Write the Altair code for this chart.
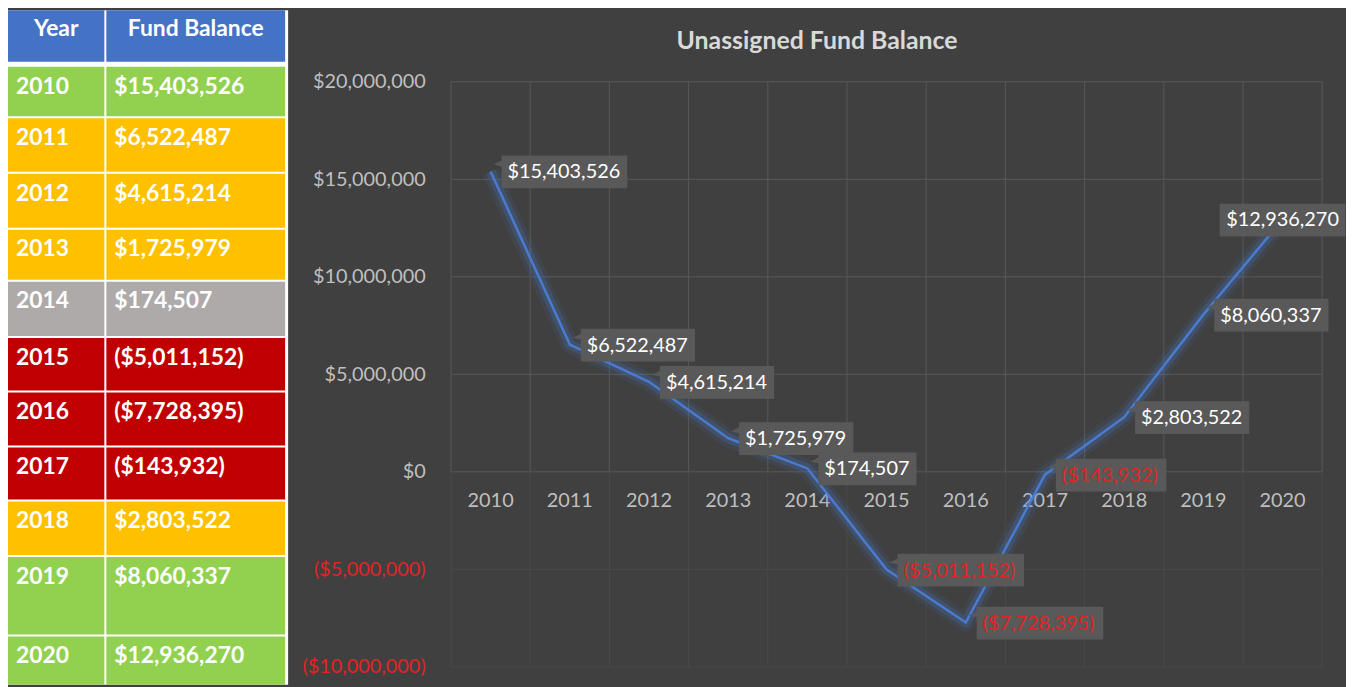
import altair as alt
import pandas as pd

# ---------------- data ----------------
years = ["2010", "2011", "2012", "2013", "2014", "2015", "2016", "2017", "2018", "2019", "2020"]
balances = [15403526, 6522487, 4615214, 1725979, 174507, -5011152, -7728395, -143932, 2803522, 8060337, 12936270]
row_colors = ["#92D050", "#FFC000", "#FFC000", "#FFC000", "#AEAAAA", "#C00000",
              "#C00000", "#C00000", "#FFC000", "#92D050", "#92D050"]
header = ["Year", "Fund Balance"]
header_color = "#4472C4"
y_ticks = [20000000, 15000000, 10000000, 5000000, 0, -5000000, -10000000]
chart_title = "Unassigned Fund Balance"

# ---------------- style / layout ----------------
FONT = "Lato"
BG = "#404040"
RED = "#e02424"
GRID = "#595959"
GRID_FAINT = "#4a4a4a"
LINE = "#4a7bd0"
BOX = "#595959"
ROW_PITCH = [57, 52, 56, 56.5, 52.5, 57, 55, 55.5, 54.5, 56, 80.3, 48.7]
COLS = [(0, 97), (99, 279)]
TABLE_W, TABLE_H = 282, 679
PLOT_W, PLOT_H = 877, 679
TOP_PX, BOT_PX = 72, 661  # pixel rows of the 20M and -10M gridlines


def money(v):
    return f"${v:,}" if v >= 0 else f"(${-v:,})"


def text_w(s, size=20):
    w = 0
    for c in s:
        if c.isdigit() or c == "$":
            w += 0.58
        elif c == ",":
            w += 0.23
        elif c in "()":
            w += 0.31
        else:
            w += 0.5
    return w * size


# ---------------- table ----------------
cells = []
starts = []
acc = 0
for p in ROW_PITCH:
    starts.append(acc)
    acc += p
table_total = acc
n_rows = len(ROW_PITCH)
for r in range(n_rows):
    gap = 5 if r == 0 else (0 if r == n_rows - 1 else 2)
    y0 = starts[r]
    y1 = starts[r] + ROW_PITCH[r] - gap
    if r == 0:
        texts = header
        fill = header_color
        kind = "head"
    else:
        texts = [years[r - 1], money(balances[r - 1])]
        fill = row_colors[r - 1]
        kind = "body"
    for c, (x0, x1) in enumerate(COLS):
        cells.append(dict(x0=x0, x1=x1, xm=(x0 + x1) / 2, y0=y0, y1=y1,
                          fill=fill, text=texts[c], kind=kind))
cells = pd.DataFrame(cells)

tx = alt.Scale(domain=[0, TABLE_W], nice=False, zero=False)
ty = alt.Scale(domain=[0, table_total], nice=False, zero=False, reverse=True)

t_base = alt.Chart(cells)
t_rect = t_base.mark_rect().encode(
    x=alt.X("x0:Q", scale=tx, axis=None), x2="x1:Q",
    y=alt.Y("y0:Q", scale=ty, axis=None), y2="y1:Q",
    color=alt.Color("fill:N", scale=None),
)
t_head = t_base.transform_filter("datum.kind == 'head'").mark_text(
    align="center", baseline="middle", dy=19, fontSize=23, fontWeight="bold",
    color="white", font=FONT,
).encode(x=alt.X("xm:Q", scale=tx, axis=None), y=alt.Y("y0:Q", scale=ty, axis=None), text="text:N")
t_body = t_base.transform_filter("datum.kind == 'body'").mark_text(
    align="left", baseline="middle", dx=8, dy=20, fontSize=23, fontWeight="bold",
    color="white", font=FONT,
).encode(x=alt.X("x0:Q", scale=tx, axis=None), y=alt.Y("y0:Q", scale=ty, axis=None), text="text:N")

table = alt.layer(t_rect, t_head, t_body).properties(
    width=TABLE_W, height=TABLE_H,
    view=alt.ViewBackground(fill="white", strokeWidth=0),
)

# ---------------- line chart ----------------
per_px = 30000000 / (BOT_PX - TOP_PX)
y_hi = 20000000 + TOP_PX * per_px
y_lo = -10000000 - (PLOT_H - BOT_PX) * per_px

xs = alt.Scale(type="band", domain=years, paddingInner=0, paddingOuter=0)
ys = alt.Scale(domain=[y_lo, y_hi], nice=False, zero=False)

pts = []
for i, (yr, v) in enumerate(zip(years, balances)):
    last = i == len(years) - 1
    w = text_w(money(v)) + 13
    if last:
        path = f"M {-w/2:.1f} -16 H {w/2:.1f} V 17 H {-w/2:.1f} Z"
    else:
        path = f"M 11 -16 H {11 + w:.1f} V 17 H 11 V -5 L 3 -7 L 11 -11 Z"
    pts.append(dict(year=yr, value=v, path=path, last=last))
pts = pd.DataFrame(pts)
yr_df = pd.DataFrame({"year": years})
tick_df = pd.DataFrame({"v": y_ticks})
title_df = pd.DataFrame({"t": [chart_title]})

X = lambda **kw: alt.X("year:O", scale=xs, axis=None, **kw)

vgrid_up = alt.Chart(yr_df).mark_rule(color=GRID, strokeWidth=1).encode(
    x=X(bandPosition=0), y=alt.datum(20000000), y2=alt.datum(0))
vgrid_dn = alt.Chart(yr_df).mark_rule(color=GRID_FAINT, strokeWidth=1).encode(
    x=X(bandPosition=0), y=alt.datum(0), y2=alt.datum(-10000000))
vgrid_end_up = alt.Chart(yr_df).transform_filter("datum.year == '2020'").mark_rule(
    color=GRID, strokeWidth=1).encode(x=X(bandPosition=1), y=alt.datum(20000000), y2=alt.datum(0))
vgrid_end_dn = alt.Chart(yr_df).transform_filter("datum.year == '2020'").mark_rule(
    color=GRID_FAINT, strokeWidth=1).encode(x=X(bandPosition=1), y=alt.datum(0), y2=alt.datum(-10000000))

hgrid = alt.Chart(tick_df).mark_rule(strokeWidth=1).encode(
    y=alt.Y("v:Q", scale=ys, title=None, axis=alt.Axis(
        values=y_ticks, format="($,.0f", grid=False, ticks=False, domain=False,
        labelPadding=26, labelFontSize=20, labelFont=FONT,
        labelColor=alt.condition("datum.value < 0", alt.value(RED), alt.value("#bfbfbf")),
        title=None)),
    color=alt.condition("datum.v >= 0", alt.value(GRID), alt.value(GRID_FAINT)),
)

year_lbl = alt.Chart(yr_df).mark_text(
    color="#bfbfbf", fontSize=20, dy=29, baseline="middle", font=FONT
).encode(x=X(), y=alt.datum(0), text="year:N")

title_mark = alt.Chart(title_df).mark_text(
    fontSize=25, fontWeight="bold", color="#d9d9d9", font=FONT,
    align="center", baseline="middle",
).encode(x=alt.value(PLOT_W / 2 - 70), y=alt.value(31), text="t:N")

base = alt.Chart(pts)
Y = alt.Y("value:Q", scale=ys, title=None)
glow1 = base.mark_line(color=LINE, strokeWidth=18, opacity=0.10, strokeJoin="round").encode(x=X(), y=Y)
glow2 = base.mark_line(color=LINE, strokeWidth=10, opacity=0.22, strokeJoin="round").encode(x=X(), y=Y)
line = base.mark_line(color=LINE, strokeWidth=2.5).encode(x=X(), y=Y)

boxes = base.mark_point(filled=True, size=4, opacity=1, color=BOX).encode(
    x=X(), y=Y, shape=alt.Shape("path:N", scale=None))

lab_color = alt.condition("datum.value < 0", alt.value(RED), alt.value("#ffffff"))
labels_l = base.transform_filter("!datum.last").mark_text(
    align="left", baseline="middle", dx=17, dy=1, fontSize=20, font=FONT
).encode(x=X(), y=Y, text=alt.Text("value:Q", format="($,.0f"), color=lab_color)
labels_c = base.transform_filter("datum.last").mark_text(
    align="center", baseline="middle", dy=1, fontSize=20, font=FONT
).encode(x=X(), y=Y, text=alt.Text("value:Q", format="($,.0f"), color=lab_color)

linechart = alt.layer(
    hgrid, vgrid_up, vgrid_dn, vgrid_end_up, vgrid_end_dn, year_lbl, title_mark,
    glow1, glow2, line, boxes, labels_l, labels_c,
).properties(width=PLOT_W, height=PLOT_H)

chart = alt.hconcat(table, linechart, spacing=13).properties(
    padding={"left": 0, "top": 0, "right": 0, "bottom": 0}
).configure(background=BG).configure_view(strokeWidth=0)

chart.save("out.html", embed_options={"renderer": "svg", "actions": False})
